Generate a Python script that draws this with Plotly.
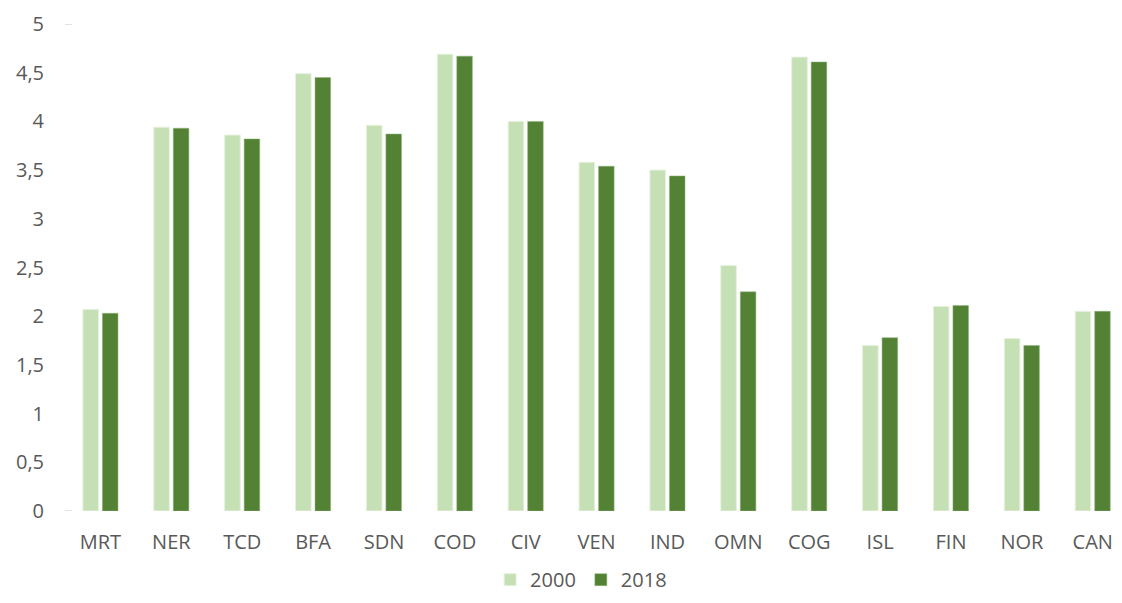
import plotly.graph_objects as go

categories = ["MRT", "NER", "TCD", "BFA", "SDN", "COD", "CIV", "VEN", "IND", "OMN", "COG", "ISL", "FIN", "NOR", "CAN"]
values_2000 = [2.07, 3.94, 3.86, 4.49, 3.96, 4.69, 4.00, 3.58, 3.50, 2.52, 4.66, 1.70, 2.10, 1.77, 2.05]
values_2018 = [2.03, 3.93, 3.82, 4.45, 3.87, 4.67, 4.00, 3.54, 3.44, 2.25, 4.61, 1.78, 2.11, 1.70, 2.05]
y_ticks = [0, 0.5, 1, 1.5, 2, 2.5, 3, 3.5, 4, 4.5, 5]

FONT = "Open Sans"
TXT = "#595959"

fig = go.Figure()
fig.add_trace(go.Bar(name="2000", x=categories, y=values_2000,
                     marker=dict(color="#c5e0b4", line=dict(color="#e6f1de", width=1))))
fig.add_trace(go.Bar(name="2018", x=categories, y=values_2018,
                     marker=dict(color="#548235", line=dict(color="#8fb47a", width=0.5))))

fig.update_layout(
    width=1106, height=587,
    margin=dict(l=57, r=0, t=16, b=84, autoexpand=False),
    paper_bgcolor="white", plot_bgcolor="white",
    separators=",.",
    barmode="group", bargap=0.45, bargroupgap=0.2,
    font=dict(family=FONT, size=20, color=TXT),
    showlegend=True,
    legend=dict(orientation="h", x=0.492, xanchor="center", y=-0.141, yanchor="middle",
                font=dict(family=FONT, size=20, color=TXT), itemwidth=30,
                traceorder="normal"),
    xaxis=dict(range=[-0.5, 14.3], showgrid=False, showline=False, ticks="",
               tickfont=dict(family=FONT, size=20, color=TXT), ticklabelstandoff=17),
    yaxis=dict(range=[0, 5], tickvals=y_ticks, showgrid=False, zeroline=False, showline=False,
               ticks="", tickfont=dict(family=FONT, size=20, color=TXT), ticklabelstandoff=20),
)

for yv in [0, 5]:
    fig.add_shape(type="line", xref="paper", yref="y", x0=0, x1=0.007, y0=yv, y1=yv,
                  line=dict(color="#d9d9d9", width=1.5))

fig.write_html("out.html")
